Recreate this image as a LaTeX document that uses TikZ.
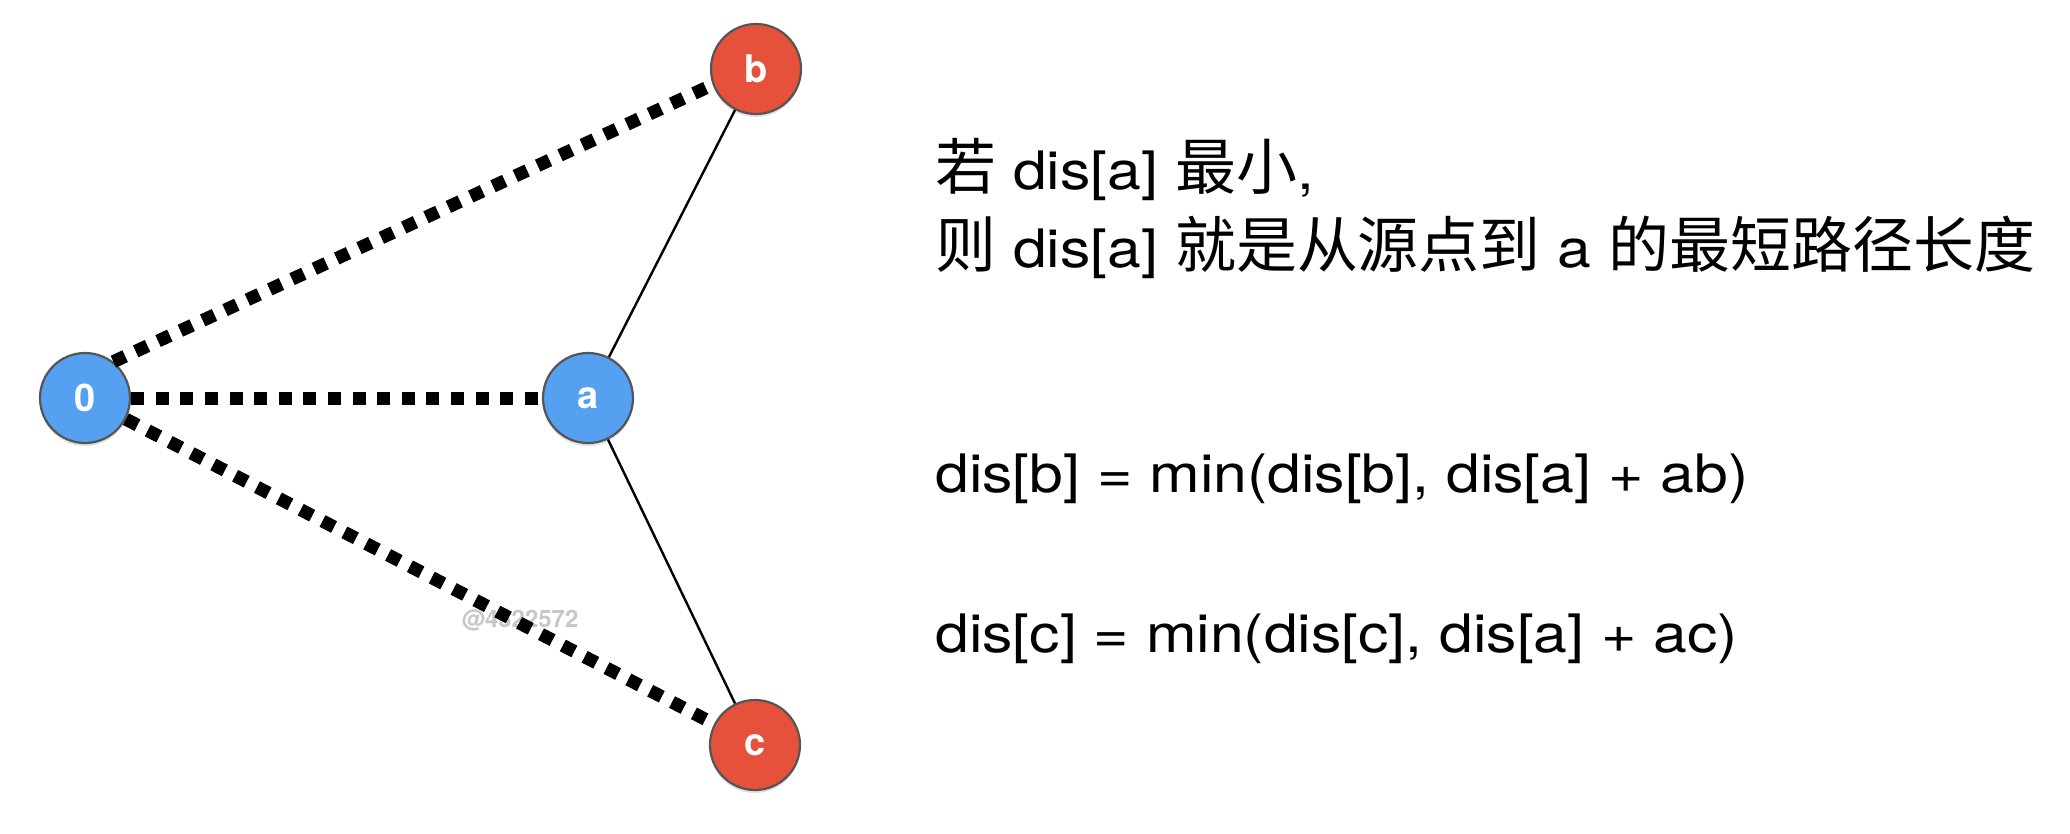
\documentclass[tikz,border=0pt]{standalone}
\usepackage{fontspec}
\setmainfont[FakeStretch=1.145]{TeX Gyre Heros}
\newfontfamily\cjk[Scale=1.15]{Noto Sans CJK SC}
\newfontfamily\lblfont{TeX Gyre Heros}
\usetikzlibrary{shadows}
\definecolor{vblue}{HTML}{56A0F1}
\definecolor{vred}{HTML}{E5513A}
\definecolor{rim}{HTML}{555555}

\begin{document}
\begin{tikzpicture}[
    x=0.5pt,y=-0.5pt,
    vtx/.style={circle,draw=rim,line width=1.1pt,minimum size=45pt,inner sep=0pt,
        text=white,font=\lblfont\bfseries\fontsize{19}{19}\selectfont,
        drop shadow={opacity=0.25,shadow xshift=0pt,shadow yshift=-1.5pt}},
    near/.style={vtx,fill=vblue},
    far/.style={vtx,fill=vred},
    dotline/.style={line width=6.5pt,dash pattern=on 6.5pt off 5.8pt},
    edge/.style={line width=1.2pt},
    txt/.style={anchor=base west,inner sep=0pt,font=\fontsize{26.5}{26.5}\selectfont},
]
    \useasboundingbox (0,0) rectangle (2070,834);
    \node[text=black!22,font=\lblfont\bfseries\fontsize{12}{12}\selectfont] (wm) at (520,620) {@4322572};

    \node[near] (o) at (85,398) {0};
    \node[near] (a) at (588,398) {a};
    \node[far] (b) at (756,69) {b};
    \node[far] (c) at (755,745) {c};

    \draw[dotline] (o.52) -- (b.200);
    \draw[dotline] (o) -- (a);
    \draw[dotline] (o) -- (c);
    \draw[edge] (a) -- (b);
    \draw[edge] (a) -- (c);

    \node[txt] (l1) at (935,190) {{\cjk 若} dis[a] {\cjk 最小},};
    \node[txt] (l2) at (935,267) {{\cjk 则} dis[a] {\cjk 就是从源点到} a {\cjk 的最短路径长度}};
    \node[txt] (l3) at (935,492) {dis[b] = min(dis[b], dis[a] + ab)};
    \node[txt] (l4) at (935,652) {dis[c] = min(dis[c], dis[a] + ac)};
\end{tikzpicture}
\end{document}
